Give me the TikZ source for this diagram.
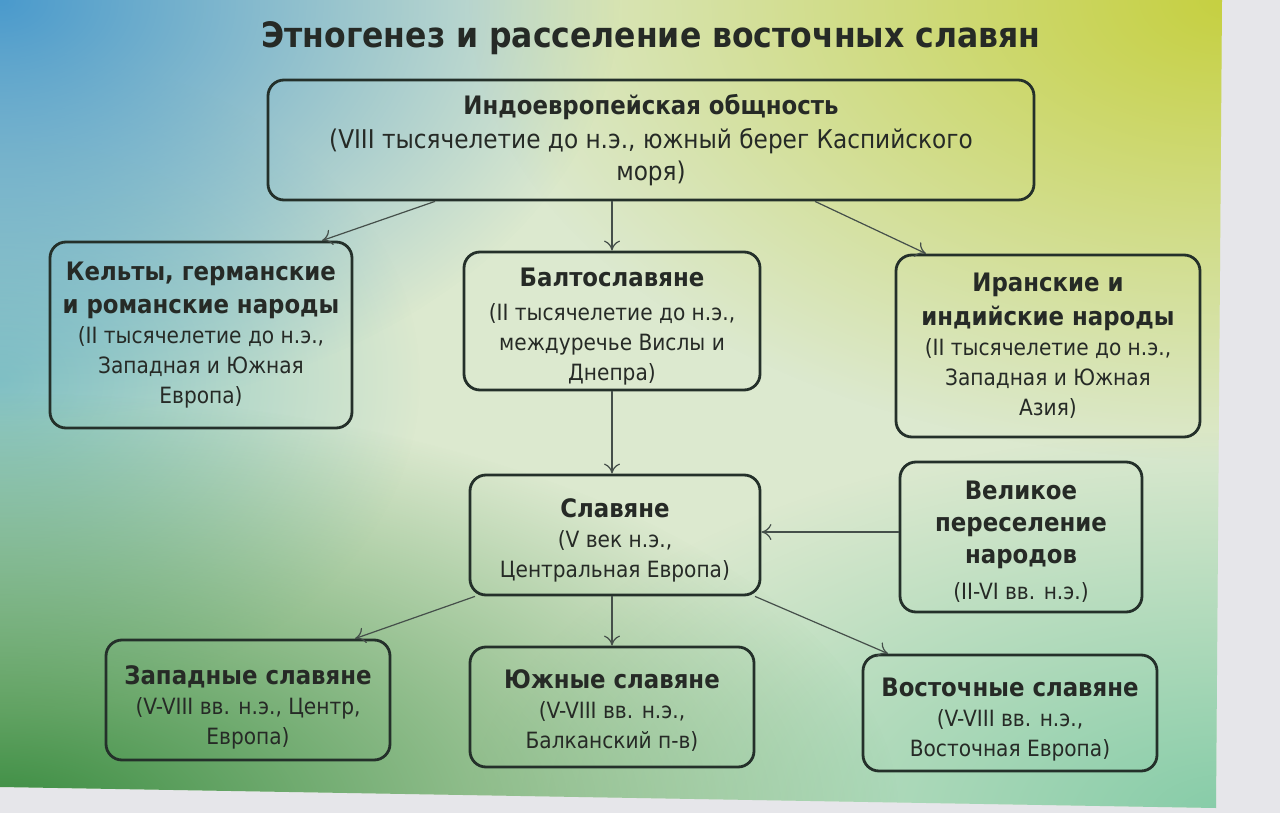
\documentclass[tikz,border=0pt]{standalone}
\usepackage{fontspec}
\setmainfont{DejaVu Sans Condensed}
\usetikzlibrary{fadings,arrows.meta}
\definecolor{bgbase}{HTML}{DCE9CF}
\definecolor{bgul}{HTML}{4A9ACC}
\definecolor{bgml}{HTML}{86C4C4}
\definecolor{bgur}{HTML}{C6D040}
\definecolor{bgll}{HTML}{3A8C40}
\definecolor{bglr}{HTML}{86CCA8}
\definecolor{outer}{HTML}{E6E6EA}
\definecolor{boxc}{HTML}{24302A}
\definecolor{txt}{HTML}{262A26}
\newcommand{\tfont}{\fontsize{12.7}{16}\selectfont\bfseries}
\newcommand{\sfont}{\fontsize{11.2}{15}\selectfont}
\newcommand{\dn}[1]{\rule{0pt}{#1}}
\tikzfading[name=centerglow, inner color=transparent!0, outer color=transparent!100]
\tikzset{
  boxnode/.style={draw=boxc, line width=1.4pt, rounded corners=8pt, align=center,
    inner sep=0pt, text=txt, font=\sfont},
  link/.style={draw=boxc!85, line width=0.6pt, -{To[length=5pt,width=8pt]}},
  blob/.style={fill=#1, path fading=centerglow},
}
\begin{document}
\begin{tikzpicture}[x=0.5pt,y=-0.5pt]
\useasboundingbox (0,0) rectangle (1280,813);
\fill[outer] (0,0) rectangle (1280,813);
\begin{scope}
\clip (0,0) -- (1222,0) -- (1216,808) -- (0,787) -- cycle;
\fill[bgbase] (0,0) rectangle (1280,813);
\fill[blob=bgml] (0,380) ellipse [x radius=420, y radius=330];
\fill[blob=bgul] (0,0) ellipse [x radius=620, y radius=420];
\fill[blob=bgur] (1230,0) ellipse [x radius=760, y radius=460];
\fill[blob=bglr] (1230,813) ellipse [x radius=760, y radius=380];
\fill[blob=bgll] (0,813) ellipse [x radius=900, y radius=420];
\end{scope}

\node[font=\fontsize{17.5}{22}\selectfont\bfseries, text=txt] (title) at (651,38) {Этногенез и расселение восточных славян};

\node[boxnode, font=\fontsize{12.9}{16}\selectfont, minimum width=383pt, minimum height=60pt] (indo) at (651,140)
  {{\tfont Индоевропейская общность}\\[1pt](VIII тысячелетие до н.э., южный берег Каспийского\\моря)};
\node[boxnode, minimum width=151pt, minimum height=93pt] (kelt) at (201,335)
  {{\tfont Кельты, германские}\\[1.5pt]{\tfont и романские народы}\\(II тысячелетие до н.э.,\\Западная и Южная\\Европа)};
\node[boxnode, minimum width=148pt, minimum height=69pt] (balt) at (612,321)
  {{\tfont\dn{14.5pt}Балтославяне}\\[2pt](II тысячелетие до н.э.,\\междуречье Вислы и\\Днепра)};
\node[boxnode, minimum width=152pt, minimum height=91pt] (iran) at (1048,346)
  {{\tfont Иранские и}\\[2pt]{\tfont индийские народы}\\(II тысячелетие до н.э.,\\Западная и Южная\\Азия)};
\node[boxnode, minimum width=145pt, minimum height=60pt] (slav) at (615,535)
  {{\tfont\dn{14.5pt}Славяне}\\[0pt](V век н.э.,\\Центральная Европа)};
\node[boxnode, minimum width=121pt, minimum height=75pt] (migr) at (1021,537)
  {{\tfont\dn{14pt}Великое}\\[1pt]{\tfont переселение}\\[1pt]{\tfont народов}\\[3pt](II-VI вв. н.э.)};
\node[boxnode, minimum width=142pt, minimum height=60pt] (west) at (248,700)
  {{\tfont\dn{17pt}Западные славяне}\\[0pt](V-VIII вв. н.э., Центр,\\Европа)};
\node[boxnode, minimum width=142pt, minimum height=60pt] (south) at (612,707)
  {{\tfont\dn{12.5pt}Южные славяне}\\[0pt](V-VIII вв. н.э.,\\Балканский п-в)};
\node[boxnode, minimum width=147pt, minimum height=58pt] (east) at (1010,713)
  {{\tfont\dn{15.5pt}Восточные славяне}\\[0pt](V-VIII вв. н.э.,\\Восточная Европа)};

\coordinate (xa) at (435,0);
\coordinate (xb) at (322,0);
\coordinate (xc) at (612,0);
\coordinate (xd) at (815,0);
\coordinate (xe) at (926,0);
\coordinate (xf) at (475,0);
\coordinate (xg) at (355,0);
\coordinate (xh) at (755,0);
\coordinate (xi) at (888,0);
\coordinate (ya) at (0,532);

\draw[link] (indo.south -| xa) -- (kelt.north -| xb);
\draw[link] (indo.south -| xc) -- (balt.north -| xc);
\draw[link] (indo.south -| xd) -- (iran.north -| xe);
\draw[link] (balt.south -| xc) -- (slav.north -| xc);
\draw[link] (migr.west |- ya) -- (slav.east |- ya);
\draw[link] (slav.south -| xf) -- (west.north -| xg);
\draw[link] (slav.south -| xc) -- (south.north -| xc);
\draw[link] (slav.south -| xh) -- (east.north -| xi);
\end{tikzpicture}
\end{document}
